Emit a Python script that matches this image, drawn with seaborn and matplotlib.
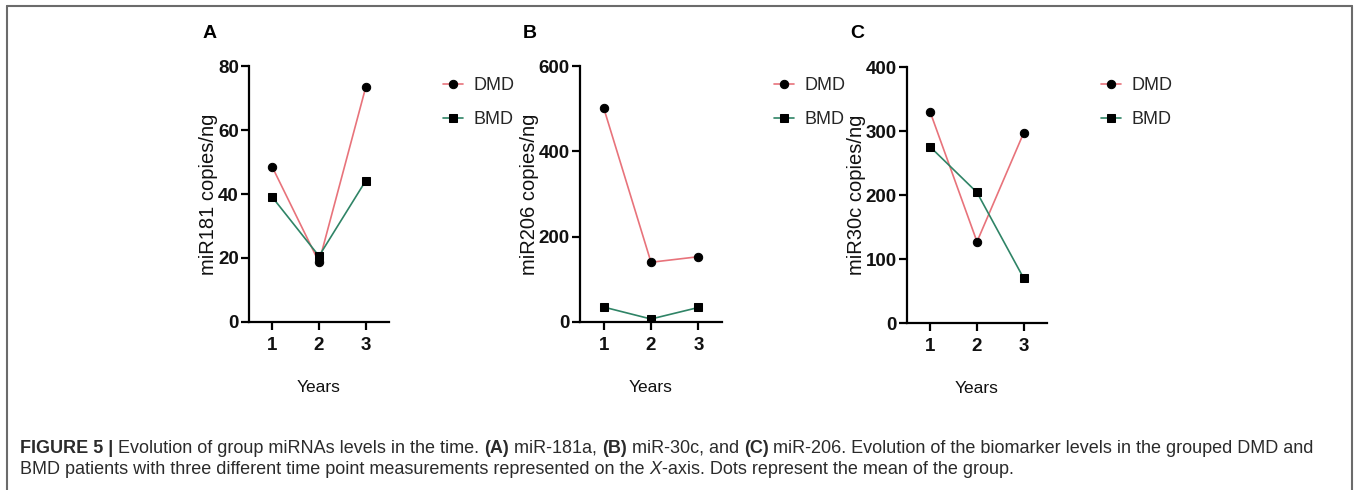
import matplotlib
matplotlib.use('Agg')
import matplotlib.pyplot as plt
import seaborn as sns
from matplotlib.lines import Line2D

# ======================================
# Data (group means per year)
# ======================================

years = [1, 2, 3]
groups = ['DMD', 'BMD']

mir181_dmd = [48.4, 18.7, 73.3]
mir181_bmd = [39.0, 20.6, 44.1]

mir206_dmd = [502, 140, 153]
mir206_bmd = [35, 7, 34]

mir30c_dmd = [329, 127, 297]
mir30c_bmd = [275, 204, 70]

panel_letters = ['A', 'B', 'C']
y_labels = ['miR181 copies/ng', 'miR206 copies/ng', 'miR30c copies/ng']
y_ticks = [[0, 20, 40, 60, 80], [0, 200, 400, 600], [0, 100, 200, 300, 400]]

# ======================================
# Style
# ======================================

sns.set_style('ticks')
plt.rcParams['font.family'] = ['Liberation Sans', 'DejaVu Sans']

colors = {'DMD': '#e8737b', 'BMD': '#2f8466'}
markers = {'DMD': 'o', 'BMD': 's'}

W, H = 1357, 490
fig = plt.figure(figsize=(W / 100, H / 100), dpi=100)


def fx(px):
    return px / W


def fy(py):
    return 1 - py / H


# axes boxes in pixels: left, right, top, bottom
boxes = [(249, 389, 66, 322), (580, 722, 66, 322), (907, 1047, 67, 323)]
letter_x = [210, 530, 857]
legend_x = [434, 765, 1092]

panels = [
    (mir181_dmd, mir181_bmd),
    (mir206_dmd, mir206_bmd),
    (mir30c_dmd, mir30c_bmd),
]

for i, (dmd, bmd) in enumerate(panels):
    l, r, t, b = boxes[i]
    ax = fig.add_axes([fx(l), fy(b), fx(r - l), (b - t) / H])

    for name, vals in zip(groups, [dmd, bmd]):
        sns.lineplot(
            x=years, y=vals, ax=ax,
            color=colors[name], linewidth=1.2,
            marker=markers[name], markersize=6,
            markerfacecolor='black', markeredgecolor='black',
            label=name
        )

    ax.set_xlim(0.5, 3.5)
    ax.set_ylim(0, y_ticks[i][-1])
    ax.set_xticks(years)
    ax.set_yticks(y_ticks[i])
    sns.despine(ax=ax)
    for s in ['left', 'bottom']:
        ax.spines[s].set_linewidth(1.6)
        ax.spines[s].set_color('black')
    ax.tick_params(width=1.6, length=5.8, colors='black')
    ax.tick_params(axis='x', pad=5)
    ax.tick_params(axis='y', pad=1.5)
    for lab in ax.get_xticklabels() + ax.get_yticklabels():
        lab.set_fontweight('bold')
        lab.set_fontsize(13.5)
        lab.set_color('#111111')

    ax.set_ylabel(y_labels[i], fontsize=14.5, color='#111111', labelpad=0)
    ax.set_xlabel('Years', fontsize=12.5, color='#111111', labelpad=19)

    ax.legend(
        loc='upper left',
        bbox_to_anchor=(fx(legend_x[i]), fy(68)),
        bbox_transform=fig.transFigure,
        frameon=False, fontsize=13,
        handlelength=1.1, handletextpad=0.6,
        labelspacing=0.95, borderpad=0
    )

    fig.text(fx(letter_x[i]), fy(34), panel_letters[i],
             fontsize=14, fontweight='bold', ha='center', va='center',
             color='black')

# ======================================
# Frame and caption
# ======================================

frame_c = '#6b6b6b'
fig.add_artist(Line2D([fx(7), fx(7)], [fy(6), 0], color=frame_c, lw=1.5,
                      transform=fig.transFigure))
fig.add_artist(Line2D([fx(7), fx(1352)], [fy(6), fy(6)], color=frame_c, lw=1.5,
                      transform=fig.transFigure))
fig.add_artist(Line2D([fx(1352), fx(1352)], [fy(6), 0], color=frame_c, lw=1.5,
                      transform=fig.transFigure))

line1 = [
    ('FIGURE 5 | ', 'bold', 'normal'),
    ('Evolution of group miRNAs levels in the time. ', 'normal', 'normal'),
    ('(A)', 'bold', 'normal'),
    (' miR-181a, ', 'normal', 'normal'),
    ('(B)', 'bold', 'normal'),
    (' miR-30c, and ', 'normal', 'normal'),
    ('(C)', 'bold', 'normal'),
    (' miR-206. Evolution of the biomarker levels in the grouped DMD and',
     'normal', 'normal'),
]
line2 = [
    ('BMD patients with three different time point measurements represented on the ',
     'normal', 'normal'),
    ('X', 'normal', 'italic'),
    ('-axis. Dots represent the mean of the group.', 'normal', 'normal'),
]

renderer = fig.canvas.get_renderer()
cap_size = 13
for line, ypx in [(line1, 448), (line2, 469)]:
    x = fx(20)
    for txt, weight, style in line:
        t = fig.text(x, fy(ypx), txt, fontsize=cap_size, fontweight=weight,
                     fontstyle=style, color='#2b2b2b', va='center', ha='left')
        bb = t.get_window_extent(renderer=renderer)
        x += bb.width / W

fig.savefig('out.png', dpi=100)
